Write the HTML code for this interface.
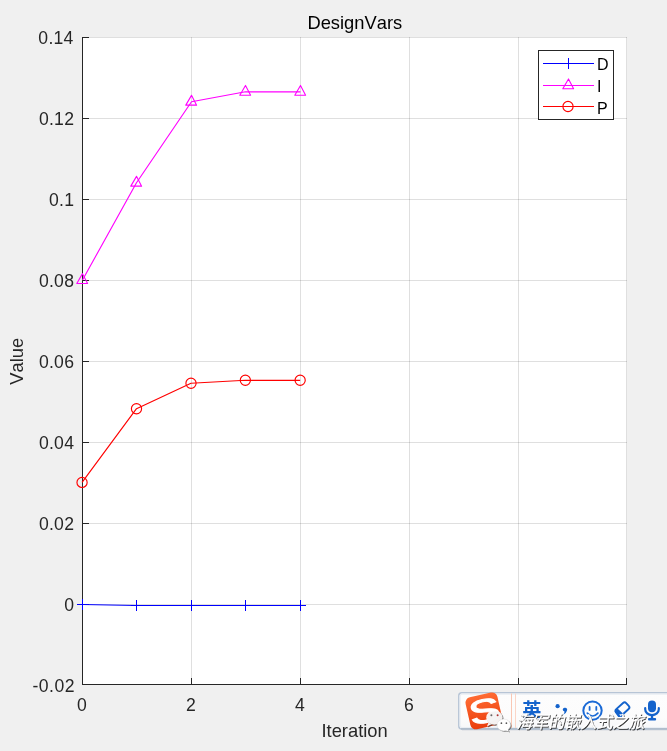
<!DOCTYPE html>
<html><head><meta charset="utf-8"><title>DesignVars</title>
<style>
html,body{margin:0;padding:0;background:#f0f0f0;overflow:hidden}
body{width:667px;height:751px;position:relative;font-family:"Liberation Sans","Noto Sans CJK SC",sans-serif}
svg{position:absolute;left:0;top:0;will-change:transform}
.tk{font-size:17.6px;fill:#262626;letter-spacing:0.25px}
.ttl{font-size:18.33px;fill:#000}
.lbl{font-size:18.33px;fill:#262626}
.lg{font-size:16px;fill:#000}
text{font-family:"Liberation Sans","Noto Sans CJK SC",sans-serif;font-kerning:none}
</style></head><body>
<svg width="667" height="751" viewBox="0 0 667 751">
<rect x="82" y="37" width="545" height="648" fill="#fff"/>
<rect x="82" y="37" width="545" height="1" fill="#262626" fill-opacity="0.15"/>
<rect x="82" y="118" width="545" height="1" fill="#262626" fill-opacity="0.15"/>
<rect x="82" y="199" width="545" height="1" fill="#262626" fill-opacity="0.15"/>
<rect x="82" y="280" width="545" height="1" fill="#262626" fill-opacity="0.15"/>
<rect x="82" y="361" width="545" height="1" fill="#262626" fill-opacity="0.15"/>
<rect x="82" y="442" width="545" height="1" fill="#262626" fill-opacity="0.15"/>
<rect x="82" y="523" width="545" height="1" fill="#262626" fill-opacity="0.15"/>
<rect x="82" y="604" width="545" height="1" fill="#262626" fill-opacity="0.15"/>
<rect x="82" y="684" width="545" height="1" fill="#262626" fill-opacity="0.15"/>
<rect x="82" y="37" width="1" height="648" fill="#262626" fill-opacity="0.15"/>
<rect x="191" y="37" width="1" height="648" fill="#262626" fill-opacity="0.15"/>
<rect x="300" y="37" width="1" height="648" fill="#262626" fill-opacity="0.15"/>
<rect x="409" y="37" width="1" height="648" fill="#262626" fill-opacity="0.15"/>
<rect x="518" y="37" width="1" height="648" fill="#262626" fill-opacity="0.15"/>
<rect x="626" y="37" width="1" height="648" fill="#262626" fill-opacity="0.15"/>
<rect x="82" y="37" width="1" height="648" fill="#262626"/>
<rect x="82" y="684" width="545" height="1" fill="#262626"/>
<rect x="82" y="37" width="7" height="1" fill="#262626"/>
<rect x="82" y="118" width="7" height="1" fill="#262626"/>
<rect x="82" y="199" width="7" height="1" fill="#262626"/>
<rect x="82" y="280" width="7" height="1" fill="#262626"/>
<rect x="82" y="361" width="7" height="1" fill="#262626"/>
<rect x="82" y="442" width="7" height="1" fill="#262626"/>
<rect x="82" y="523" width="7" height="1" fill="#262626"/>
<rect x="82" y="604" width="7" height="1" fill="#262626"/>
<rect x="82" y="684" width="7" height="1" fill="#262626"/>
<rect x="82" y="678" width="1" height="7" fill="#262626"/>
<rect x="191" y="678" width="1" height="7" fill="#262626"/>
<rect x="300" y="678" width="1" height="7" fill="#262626"/>
<rect x="409" y="678" width="1" height="7" fill="#262626"/>
<rect x="518" y="678" width="1" height="7" fill="#262626"/>
<rect x="626" y="678" width="1" height="7" fill="#262626"/>
<text x="73.6" y="43.50" text-anchor="end" class="tk" style="letter-spacing:0.25px">0.14</text>
<text x="74.2" y="124.50" text-anchor="end" class="tk" style="letter-spacing:0.25px">0.12</text>
<text x="74.2" y="205.50" text-anchor="end" class="tk" style="letter-spacing:0.25px">0.1</text>
<text x="74.2" y="286.50" text-anchor="end" class="tk" style="letter-spacing:0.25px">0.08</text>
<text x="74.2" y="367.50" text-anchor="end" class="tk" style="letter-spacing:0.25px">0.06</text>
<text x="74.2" y="448.50" text-anchor="end" class="tk" style="letter-spacing:0.25px">0.04</text>
<text x="74.2" y="529.50" text-anchor="end" class="tk" style="letter-spacing:0.25px">0.02</text>
<text x="74.2" y="610.50" text-anchor="end" class="tk" style="letter-spacing:0.25px">0</text>
<text x="75.0" y="691.50" text-anchor="end" class="tk" style="letter-spacing:0.5px">-0.02</text>
<text x="82.1" y="710.5" text-anchor="middle" class="tk">0</text>
<text x="191.1" y="710.5" text-anchor="middle" class="tk">2</text>
<text x="300.1" y="710.5" text-anchor="middle" class="tk">4</text>
<text x="409.1" y="710.5" text-anchor="middle" class="tk">6</text>
<text x="518.1" y="710.5" text-anchor="middle" class="tk">8</text>
<text x="626.1" y="710.5" text-anchor="middle" class="tk">10</text>
<text x="354.8" y="29" text-anchor="middle" class="ttl">DesignVars</text>
<text x="354.6" y="736.8" text-anchor="middle" class="lbl">Iteration</text>
<text transform="translate(23.3 361.3) rotate(-90)" text-anchor="middle" class="lbl">Value</text>
<polyline points="82.5,604.5 136.5,605.5 191.5,605.5 245.5,605.5 300.5,605.5" fill="none" stroke="#0000ff" stroke-width="1.15" stroke-linejoin="round"/>
<rect x="77" y="604" width="11" height="1" fill="#0000ff"/><rect x="82" y="599" width="1" height="11" fill="#0000ff"/>
<rect x="131" y="605" width="11" height="1" fill="#0000ff"/><rect x="136" y="600" width="1" height="11" fill="#0000ff"/>
<rect x="186" y="605" width="11" height="1" fill="#0000ff"/><rect x="191" y="600" width="1" height="11" fill="#0000ff"/>
<rect x="240" y="605" width="11" height="1" fill="#0000ff"/><rect x="245" y="600" width="1" height="11" fill="#0000ff"/>
<rect x="295" y="605" width="11" height="1" fill="#0000ff"/><rect x="300" y="600" width="1" height="11" fill="#0000ff"/>
<polyline points="82.5,280.0 136.5,182.7 191.5,101.7 245.5,91.8 300.5,91.8" fill="none" stroke="#ff00ff" stroke-width="1.15" stroke-linejoin="round"/>
<polygon points="82.50,273.65 87.60,283.45 76.80,283.45" fill="none" stroke="#ff00ff" stroke-width="1.1" stroke-linejoin="round"/>
<polygon points="136.50,176.35 141.60,186.15 130.80,186.15" fill="none" stroke="#ff00ff" stroke-width="1.1" stroke-linejoin="round"/>
<polygon points="191.50,95.35 196.60,105.15 185.80,105.15" fill="none" stroke="#ff00ff" stroke-width="1.1" stroke-linejoin="round"/>
<polygon points="245.50,85.45 250.60,95.25 239.80,95.25" fill="none" stroke="#ff00ff" stroke-width="1.1" stroke-linejoin="round"/>
<polygon points="300.50,85.45 305.60,95.25 294.80,95.25" fill="none" stroke="#ff00ff" stroke-width="1.1" stroke-linejoin="round"/>
<polyline points="82.05,482.4 136.5,408.7 191.0,383.2 245.35,380.3 300.15,380.3" fill="none" stroke="#ff0000" stroke-width="1.15" stroke-linejoin="round"/>
<circle cx="82.05" cy="482.4" r="5.1" fill="none" stroke="#ff0000" stroke-width="1.15"/>
<circle cx="136.5" cy="408.7" r="5.1" fill="none" stroke="#ff0000" stroke-width="1.15"/>
<circle cx="191.0" cy="383.2" r="5.1" fill="none" stroke="#ff0000" stroke-width="1.15"/>
<circle cx="245.35" cy="380.3" r="5.1" fill="none" stroke="#ff0000" stroke-width="1.15"/>
<circle cx="300.15" cy="380.3" r="5.1" fill="none" stroke="#ff0000" stroke-width="1.15"/>
<rect x="538.5" y="50.5" width="75" height="69" fill="#fff" stroke="#262626" stroke-width="1"/>
<rect x="543" y="63" width="51" height="1" fill="#0000ff"/>
<rect x="563" y="63" width="11" height="1" fill="#0000ff"/><rect x="568" y="58" width="1" height="11" fill="#0000ff"/>
<rect x="543" y="85" width="51" height="1" fill="#ff00ff"/>
<polygon points="568.50,78.95 573.60,88.75 562.80,88.75" fill="none" stroke="#ff00ff" stroke-width="1.1" stroke-linejoin="round"/>
<rect x="543" y="106" width="51" height="1" fill="#ff0000"/>
<circle cx="568.0" cy="106.5" r="5.1" fill="none" stroke="#ff0000" stroke-width="1.15"/>
<text x="597" y="69.6" class="lg">D</text>
<text x="597" y="91.7" class="lg">I</text>
<text x="597" y="113.8" class="lg">P</text><!-- IME toolbar -->
<defs>
<linearGradient id="tb" x1="0" y1="0" x2="0" y2="1"><stop offset="0" stop-color="#fdfdfd"/><stop offset="0.7" stop-color="#fcfcfc"/><stop offset="1" stop-color="#f6f7f9"/></linearGradient>
<linearGradient id="sg" x1="0" y1="0" x2="0" y2="1"><stop offset="0" stop-color="#ff6b33"/><stop offset="1" stop-color="#ea3d0c"/></linearGradient>
</defs>
<g id="ime">
<rect x="458.8" y="692.8" width="230" height="36.1" rx="3" ry="3" fill="url(#tb)" stroke="#b7c5d6" stroke-width="1.5"/>
<rect x="460.1" y="694.1" width="230" height="33.5" rx="2" ry="2" fill="none" stroke="#e9eef4" stroke-width="1.1"/>
<rect x="461" y="728" width="206" height="1.8" fill="#b0bdcc"/>
<rect x="462" y="730" width="205" height="1" fill="#e4e5e8"/>
<!-- sogou logo -->
<g transform="translate(483.9 710.9) rotate(-12.7)">
<rect x="-16.3" y="-16.3" width="32.6" height="32.6" rx="5.5" ry="5.5" fill="url(#sg)"/>
<text x="0.4" y="11.6" text-anchor="middle" transform="scale(1.42 1)" style="font-family:'Liberation Sans',sans-serif;font-weight:normal;font-size:33px;fill:#fff;stroke:#fff;stroke-width:1.1px">S</text>
</g>
<!-- separator -->
<rect x="511" y="693.5" width="1" height="34.5" fill="#f9c7b4"/>
<rect x="515" y="693.5" width="1" height="34.5" fill="#fbd6c8"/>
<!-- 英 -->
<text x="522.3" y="717.2" style="font-family:'Liberation Sans','Noto Sans CJK SC',sans-serif;font-weight:bold;font-size:19.2px;fill:#1463cc">英</text>
<!-- punctuation -->
<circle cx="557.6" cy="706.2" r="2.1" fill="#1463cc"/>
<path d="M562.7 709.6 a2.2 2.2 0 1 1 4.2 1.2 q-0.7 3 -4 4.2 q1.8 -1.6 1.6 -3.4 a2.2 2.2 0 0 1 -1.8 -2z" fill="#1463cc"/>
<!-- smiley -->
<circle cx="592.5" cy="710.6" r="9.2" fill="none" stroke="#1a6ad6" stroke-width="2"/>
<rect x="588.7" y="706" width="1.8" height="4.8" rx="0.9" fill="#1a6ad6"/>
<rect x="595.4" y="706" width="1.8" height="4.8" rx="0.9" fill="#1a6ad6"/>
<path d="M587.3 713.2 q5.4 5.6 10.6 0" fill="none" stroke="#1a6ad6" stroke-width="1.7" stroke-linecap="round"/>
<!-- skin/eraser -->
<g transform="translate(622.3 709.2) rotate(-42.5)">
<rect x="-6.6" y="-4.1" width="13.6" height="8.2" rx="2.2" fill="none" stroke="#1463cc" stroke-width="1.9"/>
<path d="M-7.4 -3.4 L-3.2 -4.4 L-2.4 4.4 L-8.6 5.6 Z" fill="#1463cc"/>
<path d="M-5.6 1.6 L-3.4 3.9 L-6.2 4.3 Z" fill="#eef2fa"/>
</g>
<!-- mic -->
<rect x="648" y="700.5" width="8" height="11.8" rx="4" fill="#1463cc"/>
<path d="M645.2 708.2 v1 a6.8 6 0 0 0 13.6 0 v-1" fill="none" stroke="#1463cc" stroke-width="2.2" stroke-linecap="round"/>
<rect x="650.8" y="715.4" width="2.4" height="3.4" fill="#1463cc"/>
<rect x="648" y="717.9" width="8.1" height="2.5" rx="1" fill="#1463cc"/>
</g>
<!-- watermark -->
<g id="wm">
<!-- wechat icon shadow -->
<g fill="#3a3a3a" opacity="0.75" transform="translate(0.9 0.9)">
<ellipse cx="494.4" cy="717.6" rx="8.2" ry="7.2"/>
<path d="M488.5 722.5 l-1.6 4 l4.6 -2.2z"/>
<ellipse cx="503.8" cy="725" rx="6.8" ry="5.9"/>
<path d="M507.5 728.8 l1.6 2.9 l-4 -1.6z"/>
</g>
<g fill="#fff" opacity="0.93">
<ellipse cx="494.4" cy="717.6" rx="8.2" ry="7.2"/>
<path d="M488.5 722.5 l-1.6 4 l4.6 -2.2z"/>
</g>
<g fill="#fff">
<ellipse cx="503.8" cy="725" rx="6.8" ry="5.9" stroke="#ddd" stroke-width="0.5"/>
<path d="M507.5 728.8 l1.6 2.9 l-4 -1.6z"/>
</g>
<circle cx="491.4" cy="715.2" r="1" fill="#666"/>
<circle cx="497.6" cy="715.2" r="1" fill="#a33"/>
<circle cx="501.4" cy="723.2" r="0.85" fill="#555"/>
<circle cx="506.4" cy="723.2" r="0.85" fill="#555"/>
<g transform="translate(516.5 727.9) skewX(-11) scale(0.942 1)" style="font-family:'Liberation Sans','Noto Sans CJK SC',sans-serif;font-size:17px;font-weight:400">
<text x="1.1" y="1.1" fill="#222" opacity="0.9" stroke="#222" stroke-width="0.3">海军的嵌入式之旅</text>
<text x="0" y="0" fill="#ffffff" stroke="#fff" stroke-width="0.25">海军的嵌入式之旅</text>
</g>
</g>

</svg>

</body></html>
